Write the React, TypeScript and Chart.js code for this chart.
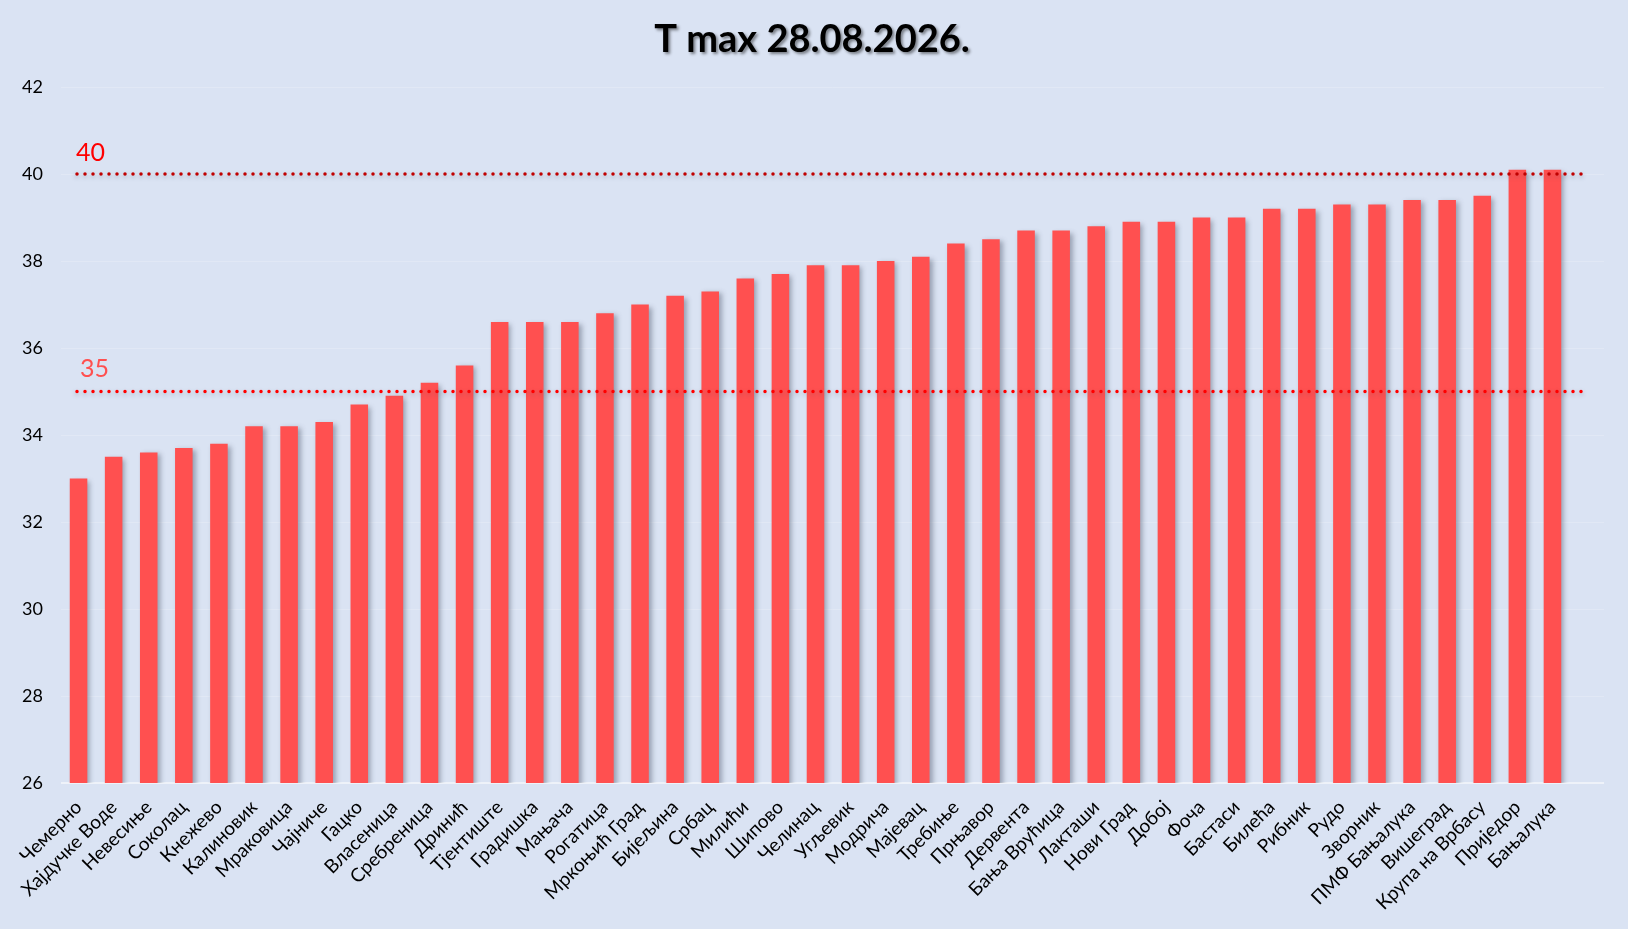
import React, { useEffect, useRef } from "react";
import { Chart, registerables } from "chart.js";

Chart.register(...registerables);

const stations = [
  "Чемерно",
  "Хајдучке Воде",
  "Невесиње",
  "Соколац",
  "Кнежево",
  "Калиновик",
  "Мраковица",
  "Чајниче",
  "Гацко",
  "Власеница",
  "Сребреница",
  "Дринић",
  "Тјентиште",
  "Градишка",
  "Мањача",
  "Рогатица",
  "Мркоњић Град",
  "Бијељина",
  "Србац",
  "Милићи",
  "Шипово",
  "Челинац",
  "Угљевик",
  "Модрича",
  "Мајевац",
  "Требиње",
  "Прњавор",
  "Дервента",
  "Бања Врућица",
  "Лакташи",
  "Нови Град",
  "Добој",
  "Фоча",
  "Бастаси",
  "Билећа",
  "Рибник",
  "Рудо",
  "Зворник",
  "ПМФ Бањалука",
  "Вишеград",
  "Крупа на Врбасу",
  "Приједор",
  "Бањалука",
];

const tmax = [
  33.0, 33.5, 33.6, 33.7, 33.8, 34.2, 34.2, 34.3, 34.7, 34.9, 35.2, 35.6, 36.6,
  36.6, 36.6, 36.8, 37.0, 37.2, 37.3, 37.6, 37.7, 37.9, 37.9, 38.0, 38.1, 38.4,
  38.5, 38.7, 38.7, 38.8, 38.9, 38.9, 39.0, 39.0, 39.2, 39.2, 39.3, 39.3, 39.4,
  39.4, 39.5, 40.1, 40.1,
];

const yMin = 26;
const yMax = 42;
const yStep = 2;

const thresholds = [40, 35];
const thresholdLabels = ["40", "35"];
const thresholdLineColors = ["#C00000", "#FF0000"];
const thresholdTextColors = ["#FF0000", "#FF5050"];

const titleText = "T max 28.08.2026.";

const FONT = "Lato, 'Noto Sans', sans-serif";
// the value axis runs a bit past the last category
const EXTRA_RIGHT = 34;

const background = {
  id: "background",
  beforeDraw(chart: any) {
    const ctx = chart.ctx;
    ctx.save();
    ctx.fillStyle = "#DAE3F3";
    ctx.fillRect(0, 0, chart.width, chart.height);
    ctx.restore();
  },
};

// horizontal gridlines + bottom axis line, extended to the right
const gridAndAxis = {
  id: "gridAndAxis",
  beforeDatasetsDraw(chart: any) {
    const { ctx, chartArea, scales } = chart;
    const right = chartArea.right + EXTRA_RIGHT;
    ctx.save();
    scales.y.ticks.forEach((t: any) => {
      if (t.value === yMin) return;
      const y = Math.round(scales.y.getPixelForValue(t.value)) + 0.5;
      ctx.strokeStyle = "#E1E8F5";
      ctx.lineWidth = 1;
      ctx.beginPath();
      ctx.moveTo(chartArea.left, y);
      ctx.lineTo(right, y);
      ctx.stroke();
    });
    const yb = scales.y.getPixelForValue(yMin);
    ctx.strokeStyle = "#EEF2F9";
    ctx.lineWidth = 2;
    ctx.beginPath();
    ctx.moveTo(chartArea.left, yb);
    ctx.lineTo(right, yb);
    ctx.stroke();
    ctx.restore();
  },
};

// soft shadow under the bars
const barShadow = {
  id: "barShadow",
  beforeDatasetDraw(chart: any) {
    const ctx = chart.ctx;
    ctx.save();
    ctx.shadowColor = "rgba(70, 80, 100, 0.45)";
    ctx.shadowBlur = 5;
    ctx.shadowOffsetX = 3;
    ctx.shadowOffsetY = 2;
  },
  afterDatasetDraw(chart: any) {
    chart.ctx.restore();
  },
};

// dotted threshold lines + their labels
const thresholdLines = {
  id: "thresholdLines",
  afterDatasetsDraw(chart: any) {
    const { ctx, chartArea, scales } = chart;
    thresholds.forEach((v, i) => {
      const y = scales.y.getPixelForValue(v);
      ctx.save();
      ctx.shadowColor = "rgba(70, 80, 100, 0.35)";
      ctx.shadowBlur = 4;
      ctx.shadowOffsetY = 2;
      ctx.strokeStyle = thresholdLineColors[i];
      ctx.lineWidth = 3.5;
      ctx.lineCap = "round";
      ctx.setLineDash([0, 8]);
      ctx.beginPath();
      ctx.moveTo(chartArea.left + 16, y);
      ctx.lineTo(chartArea.right + EXTRA_RIGHT - 20, y);
      ctx.stroke();
      ctx.restore();

      ctx.save();
      ctx.fillStyle = thresholdTextColors[i];
      ctx.font = `25px ${FONT}`;
      ctx.textAlign = "left";
      ctx.textBaseline = "alphabetic";
      ctx.fillText(thresholdLabels[i], chartArea.left + 15 + i * 4, y - 13 - i * 2);
      ctx.restore();
    });
  },
};

const titleDraw = {
  id: "titleDraw",
  afterDraw(chart: any) {
    const ctx = chart.ctx;
    ctx.save();
    ctx.font = `bold 38px ${FONT}`;
    ctx.textAlign = "center";
    ctx.textBaseline = "middle";
    ctx.shadowColor = "rgba(0, 0, 0, 0.45)";
    ctx.shadowBlur = 3;
    ctx.shadowOffsetX = 2;
    ctx.shadowOffsetY = 2;
    ctx.fillStyle = "#000000";
    ctx.fillText(titleText, 812, 40);
    ctx.restore();
  },
};

const TmaxChart: React.FC = () => {
  const chartRef = useRef<HTMLCanvasElement>(null);

  useEffect(() => {
    document.body.style.margin = "0";
    if (!chartRef.current) return;
    const ctx = chartRef.current.getContext("2d");
    if (!ctx) return;

    const chart = new Chart(ctx, {
      type: "bar",
      data: {
        labels: stations,
        datasets: [
          {
            label: "T max",
            data: tmax,
            backgroundColor: "#FF5050",
            borderWidth: 0,
            barPercentage: 0.5,
            categoryPercentage: 1,
          },
        ],
      },
      options: {
        responsive: false,
        animation: false,
        devicePixelRatio: 1,
        layout: {
          padding: { top: 87, right: 24 + EXTRA_RIGHT, bottom: 0, left: 0 },
        },
        scales: {
          x: {
            grid: { display: false, drawTicks: false },
            border: { display: false },
            ticks: {
              autoSkip: false,
              minRotation: 45,
              maxRotation: 45,
              padding: 13,
              color: "#000000",
              font: { family: FONT, size: 19 },
            },
            afterFit(scale: any) {
              scale.height = 146;
            },
          },
          y: {
            min: yMin,
            max: yMax,
            grid: { display: false, drawTicks: false },
            border: { display: false },
            ticks: {
              stepSize: yStep,
              padding: 18,
              color: "#000000",
              font: { family: FONT, size: 18 },
            },
            afterFit(scale: any) {
              scale.width = 61;
            },
          },
        },
        plugins: {
          legend: { display: false },
          title: { display: false },
          tooltip: { enabled: false },
        },
      },
      plugins: [background, gridAndAxis, barShadow, thresholdLines, titleDraw],
    });

    return () => {
      chart.destroy();
    };
  }, []);

  return (
    <div style={{ width: 1628, height: 929 }}>
      <canvas ref={chartRef} width={1628} height={929} />
    </div>
  );
};

export default function App() {
  return <TmaxChart />;
}
